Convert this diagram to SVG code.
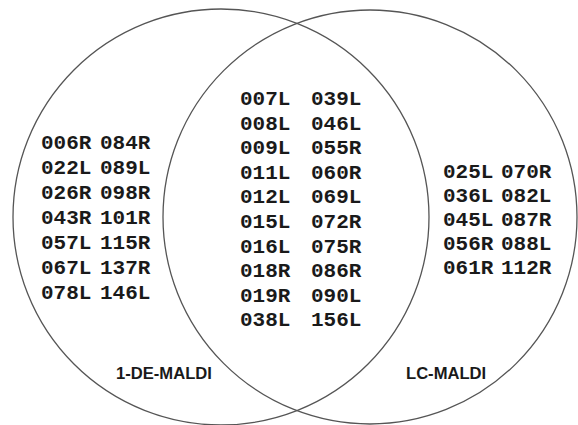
<svg xmlns="http://www.w3.org/2000/svg" width="578" height="425" viewBox="0 0 578 425">
<style>
.c{fill:none;stroke:#555;stroke-width:1.3}
.t{font-family:"Liberation Mono","Courier New",monospace;font-weight:bold;font-size:21px;fill:#1a1a1a}
.l{font-family:"Liberation Sans",Arial,sans-serif;font-weight:bold;font-size:16.6px;fill:#1a1a1a}
</style>
<rect width="578" height="425" fill="#fff"/>
<g id="connectors"></g>
<g id="set-1-DE-MALDI">
<circle class="c" cx="221" cy="217" r="208"/>
<text class="l" x="116" y="379">1-DE-MALDI</text>
<g class="t">
<text x="41" y="149">006R</text><text x="100" y="149">084R</text>
<text x="41" y="174">022L</text><text x="100" y="174">089L</text>
<text x="41" y="199">026R</text><text x="100" y="199">098R</text>
<text x="41" y="224">043R</text><text x="100" y="224">101R</text>
<text x="41" y="249">057L</text><text x="100" y="249">115R</text>
<text x="41" y="274">067L</text><text x="100" y="274">137R</text>
<text x="41" y="299">078L</text><text x="100" y="299">146L</text>
</g>
</g>
<g id="set-LC-MALDI">
<circle class="c" cx="370" cy="217" r="207"/>
<text class="l" x="406" y="379">LC-MALDI</text>
<g class="t">
<text x="443" y="178">025L</text><text x="501" y="178">070R</text>
<text x="443" y="202">036L</text><text x="501" y="202">082L</text>
<text x="443" y="226">045L</text><text x="501" y="226">087R</text>
<text x="443" y="250">056R</text><text x="501" y="250">088L</text>
<text x="443" y="274">061R</text><text x="501" y="274">112R</text>
</g>
</g>
<g id="intersection">
<g class="t">
<text x="240" y="105">007L</text><text x="311" y="105">039L</text>
<text x="240" y="129.6">008L</text><text x="311" y="129.6">046L</text>
<text x="240" y="154.2">009L</text><text x="311" y="154.2">055R</text>
<text x="240" y="178.8">011L</text><text x="311" y="178.8">060R</text>
<text x="240" y="203.4">012L</text><text x="311" y="203.4">069L</text>
<text x="240" y="228">015L</text><text x="311" y="228">072R</text>
<text x="240" y="252.6">016L</text><text x="311" y="252.6">075R</text>
<text x="240" y="277.2">018R</text><text x="311" y="277.2">086R</text>
<text x="240" y="301.8">019R</text><text x="311" y="301.8">090L</text>
<text x="240" y="326.4">038L</text><text x="311" y="326.4">156L</text>
</g>
</g>
</svg>
